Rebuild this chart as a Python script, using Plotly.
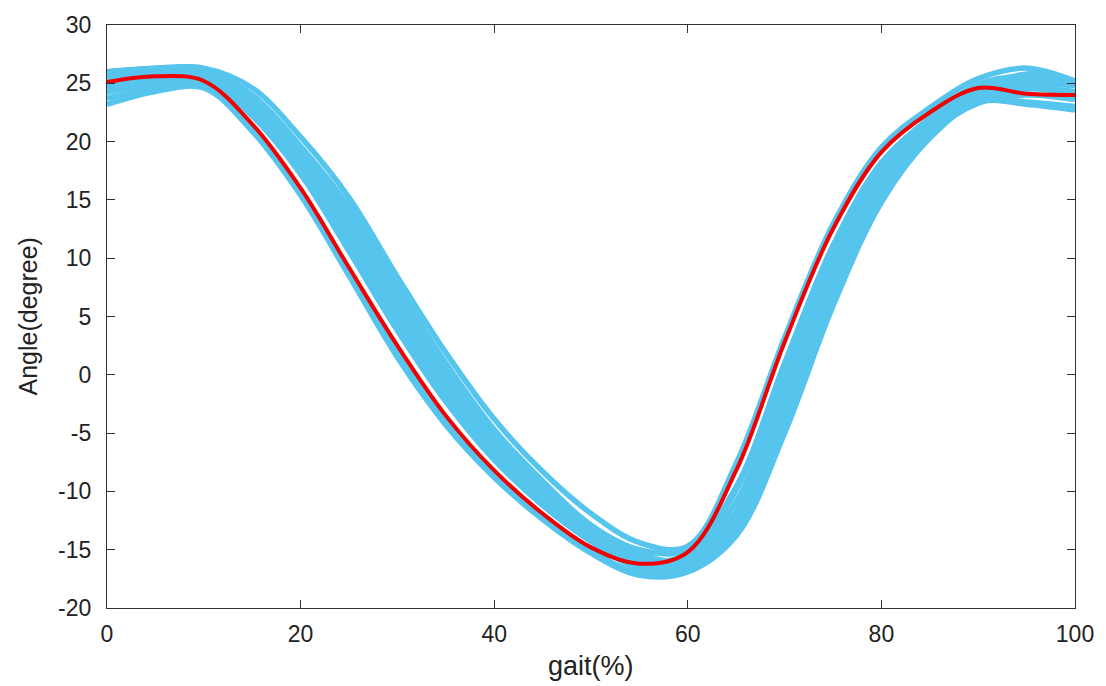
import plotly.graph_objects as go

gait = [0, 5, 10, 15, 20, 25, 30, 35, 40, 45, 50, 55, 60, 65, 70, 75, 80, 85, 90, 95, 100]

mean_angle = [25.1, 25.6, 25.2, 21.5, 16.0, 9.2, 2.5, -3.5, -8.2, -11.9, -14.8, -16.2,
              -15.2, -8.2, 2.8, 12.5, 19.1, 22.5, 24.6, 24.1, 24.0]

trial_1 = [26.0, 26.3, 26.3, 24.6, 20.4, 15.2, 8.4, 1.9, -3.8, -8.3, -11.9, -14.4,
           -14.7, -7.6, 3.2, 12.9, 19.5, 22.9, 25.4, 26.3, 25.2]
trial_2 = [25.7, 26.1, 26.1, 24.0, 19.6, 14.4, 7.6, 1.0, -4.7, -9.1, -12.9, -15.0,
           -15.0, -9.6, 1.0, 11.1, 18.2, 22.0, 24.9, 25.6, 24.9]
trial_3 = [25.4, 26.0, 25.9, 23.6, 19.0, 13.4, 6.5, 0.0, -5.5, -9.7, -13.2, -15.6,
           -15.6, -10.9, -0.6, 9.8, 17.4, 21.5, 24.0, 24.9, 24.8]
trial_4 = [24.6, 25.4, 25.6, 23.0, 18.3, 12.0, 5.1, -1.2, -6.4, -10.5, -13.8, -16.0,
           -16.1, -12.6, -2.8, 8.0, 16.2, 20.9, 23.5, 24.5, 24.3]
trial_5 = [24.2, 25.0, 25.3, 22.2, 17.2, 10.6, 3.8, -2.3, -7.3, -11.2, -14.3, -16.6,
           -16.6, -13.4, -4.4, 6.5, 15.2, 20.6, 23.3, 24.0, 23.6]
trial_6 = [23.7, 24.6, 24.8, 21.2, 15.8, 9.0, 2.2, -3.8, -8.5, -12.2, -15.1, -17.0,
           -16.6, -11.8, -1.7, 9.0, 16.8, 21.2, 23.6, 23.4, 23.0]
trial_7 = [23.2, 24.3, 24.6, 20.9, 15.4, 8.5, 1.5, -4.3, -8.8, -12.4, -15.3, -17.2,
           -16.9, -13.8, -5.0, 5.9, 14.8, 20.3, 23.4, 23.2, 22.7]
trial_8 = [26.0, 26.2, 25.8, 23.3, 18.9, 12.7, 5.8, -0.6, -6.0, -10.1, -13.5, -15.8,
           -15.4, -9.9, 0.6, 10.8, 18.0, 22.0, 24.4, 25.3, 25.0]
trial_9 = [24.9, 25.8, 25.7, 22.6, 17.7, 11.3, 4.5, -1.8, -6.9, -10.8, -14.0, -16.3,
           -16.4, -13.0, -3.5, 7.4, 15.8, 20.8, 23.8, 24.6, 23.9]
trial_10 = [25.9, 26.3, 26.2, 23.9, 19.4, 13.9, 7.0, 0.5, -5.1, -9.4, -12.9, -15.3,
            -15.9, -11.8, -1.7, 9.0, 16.8, 21.3, 24.4, 25.8, 25.2]

trials = [trial_1, trial_2, trial_3, trial_4, trial_5, trial_6, trial_7, trial_8, trial_9, trial_10]

x_ticks = [0, 20, 40, 60, 80, 100]
x_tick_labels = ["0", "20", "40", "60", "80", "100"]
y_ticks = [-20, -15, -10, -5, 0, 5, 10, 15, 20, 25, 30]
y_tick_labels = ["-20", "-15", "-10", "-5", "0", "5", "10", "15", "20", "25", "30"]

BLUE = "#56C5EE"
RED = "#F00000"
AX = "#333333"
FONT = "Liberation Sans, Arial, sans-serif"

fig = go.Figure()
for tr in trials:
    fig.add_trace(go.Scatter(x=gait, y=tr, mode="lines",
                             line=dict(color=BLUE, width=5.5, shape="spline", smoothing=1.0),
                             showlegend=False, hoverinfo="skip"))
fig.add_trace(go.Scatter(x=gait, y=mean_angle, mode="lines",
                         line=dict(color=RED, width=4, shape="spline", smoothing=1.0),
                         showlegend=False))

axis_common = dict(showgrid=False, zeroline=False, showline=True, linecolor=AX, linewidth=1.3,
                   mirror="ticks", ticks="inside", ticklen=8, tickwidth=1.3, tickcolor=AX,
                   tickfont=dict(family=FONT, size=23, color="#222222"))

fig.update_xaxes(range=[0, 100], tickvals=x_ticks, ticktext=x_tick_labels,
                 ticklabelstandoff=5, **axis_common)
fig.update_yaxes(range=[-20, 30], tickvals=y_ticks, ticktext=y_tick_labels,
                 ticklabelstandoff=10, **axis_common)

L, R, T, B = 107, 31, 17, 78
W, H = 1106, 686
pw, ph = W - L - R, H - T - B

fig.update_layout(
    width=W, height=H,
    margin=dict(l=L, r=R, t=T, b=B, pad=0),
    plot_bgcolor="white", paper_bgcolor="white",
    annotations=[
        dict(text="gait(%)", x=0.5, y=-(667 - (H - B)) / ph, xref="paper", yref="paper",
             xanchor="center", yanchor="middle", showarrow=False,
             font=dict(family=FONT, size=27, color="#222222")),
        dict(text="Angle(degree)", x=(27 - L) / pw, y=0.5, xref="paper", yref="paper",
             xanchor="center", yanchor="middle", textangle=-90, showarrow=False,
             font=dict(family=FONT, size=25, color="#222222")),
    ],
)

fig.write_html("out.html")
